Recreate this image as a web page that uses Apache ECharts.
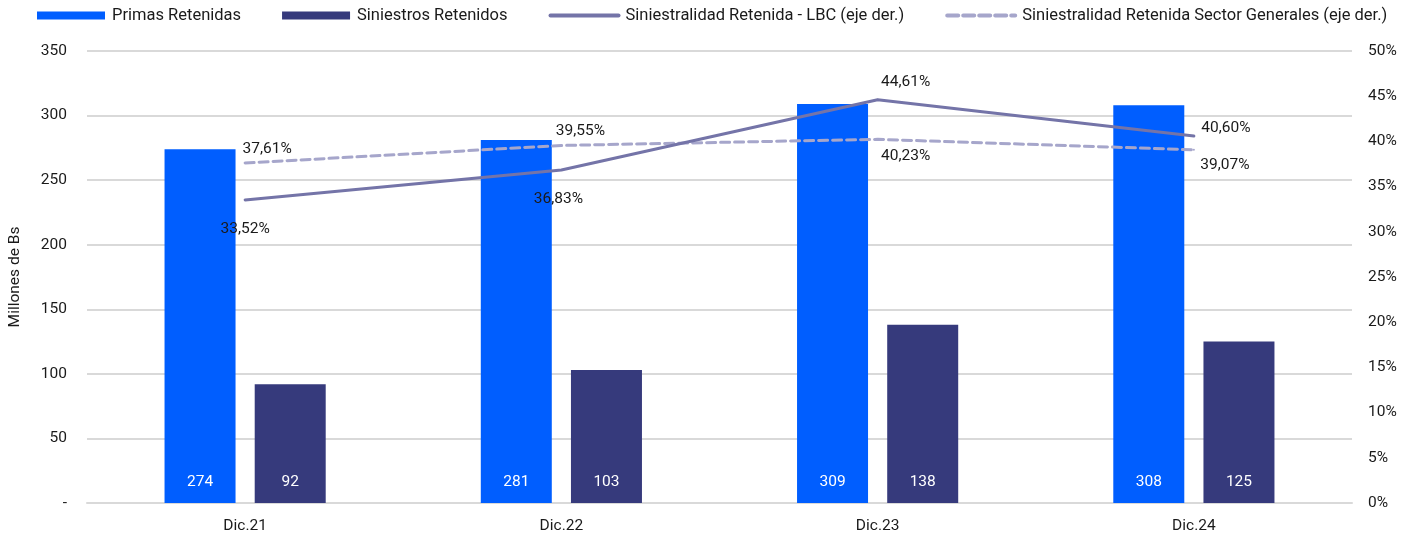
<!DOCTYPE html>
<html>
<head>
<meta charset="utf-8">
<script src="https://cdn.jsdelivr.net/npm/echarts@6/dist/echarts.min.js"></script>
<style>
  html, body { margin: 0; padding: 0; background: #fff; }
  #chart { width: 1418px; height: 536px; }
</style>
</head>
<body>
<div id="chart"></div>
<script>
const categories = ['Dic.21', 'Dic.22', 'Dic.23', 'Dic.24'];
const primas = [274, 281, 309, 308];
const siniestros = [92, 103, 138, 125];
const siniestralidadLBC = [33.52, 36.83, 44.61, 40.60];
const siniestralidadSector = [37.61, 39.55, 40.23, 39.07];

// where each percentage label sits relative to its point
const lbcLabelOffset = [[0, 29], [-3, 29], [28, -18], [32, -8]];
const sectorLabelOffset = [[22, -14], [19, -14], [28, 17], [31, 15]];

const font = 'Roboto';
const fs = 15.5;
const pct = v => v.toFixed(2).replace('.', ',') + '%';

const lineData = (values, offsets) => values.map((v, i) => ({
    value: v,
    label: { offset: offsets[i] }
}));

const chart = echarts.init(document.getElementById('chart'));
const option = {
    animation: false,
    textStyle: { fontFamily: font },
    legend: {
        top: 7,
        left: 37,
        padding: 0,
        itemWidth: 68,
        itemHeight: 8,
        itemGap: 41,
        textStyle: { fontSize: 16.5, color: '#1a1a1a', fontFamily: font, padding: [0, 0, 0, 2] },
        data: [
            { name: 'Primas Retenidas', icon: 'rect' },
            { name: 'Siniestros Retenidos', icon: 'rect' },
            {
                name: 'Siniestralidad Retenida - LBC (eje der.)',
                itemStyle: { opacity: 0 },
                lineStyle: { width: 4 }
            },
            {
                name: 'Siniestralidad Retenida Sector Generales (eje der.)',
                itemStyle: { opacity: 0 },
                lineStyle: { width: 4, type: [11, 5] }
            }
        ]
    },
    grid: { left: 87, right: 66, top: 51, bottom: 33, outerBoundsMode: 'none' },
    xAxis: {
        type: 'category',
        data: categories,
        axisTick: { show: false },
        axisLine: { lineStyle: { color: '#d9d9d9', width: 2 } },
        axisLabel: { color: '#1a1a1a', fontSize: fs, margin: 15 }
    },
    yAxis: [
        {
            type: 'value',
            min: 0,
            max: 350,
            interval: 50,
            name: 'Millones de Bs',
            nameLocation: 'middle',
            nameGap: 64,
            nameTextStyle: { color: '#1a1a1a', fontSize: fs },
            axisLine: { show: false },
            axisTick: { show: false },
            splitLine: { lineStyle: { color: '#d9d9d9', width: 2 } },
            axisLabel: {
                color: '#1a1a1a',
                fontSize: fs,
                margin: 20,
                formatter: v => v === 0 ? '-' : v
            }
        },
        {
            type: 'value',
            min: 0,
            max: 50,
            interval: 5,
            position: 'right',
            axisLine: { show: false },
            axisTick: { show: false },
            splitLine: { show: false },
            axisLabel: {
                color: '#1a1a1a',
                fontSize: fs,
                margin: 16,
                formatter: v => v + '%'
            }
        }
    ],
    series: [
        {
            name: 'Primas Retenidas',
            type: 'bar',
            data: primas,
            barWidth: 71,
            barGap: '27%',
            itemStyle: { color: '#005eff' },
            label: {
                show: true,
                position: 'insideBottom',
                distance: 13,
                color: '#fff',
                fontSize: fs
            }
        },
        {
            name: 'Siniestros Retenidos',
            type: 'bar',
            data: siniestros,
            barWidth: 71,
            itemStyle: { color: '#363a7c' },
            label: {
                show: true,
                position: 'insideBottom',
                distance: 13,
                color: '#fff',
                fontSize: fs
            }
        },
        {
            name: 'Siniestralidad Retenida - LBC (eje der.)',
            type: 'line',
            yAxisIndex: 1,
            data: lineData(siniestralidadLBC, lbcLabelOffset),
            symbol: 'circle',
            symbolSize: 2,
            itemStyle: { color: '#7474a8' },
            lineStyle: { color: '#7474a8', width: 3, cap: 'round' },
            label: {
                show: true,
                position: 'inside',
                color: '#1a1a1a',
                fontSize: fs,
                formatter: p => pct(p.value)
            },
            z: 4
        },
        {
            name: 'Siniestralidad Retenida Sector Generales (eje der.)',
            type: 'line',
            yAxisIndex: 1,
            data: lineData(siniestralidadSector, sectorLabelOffset),
            symbol: 'circle',
            symbolSize: 2,
            itemStyle: { color: '#a6a6cb' },
            lineStyle: { color: '#a6a6cb', width: 3, type: [9, 5], cap: 'round' },
            label: {
                show: true,
                position: 'inside',
                color: '#1a1a1a',
                fontSize: fs,
                formatter: p => pct(p.value)
            },
            z: 3
        }
    ]
};
chart.setOption(option);
</script>
</body>
</html>
